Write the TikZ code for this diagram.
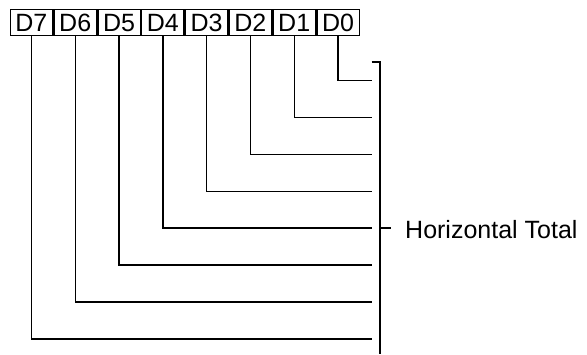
\documentclass[tikz,border=0pt]{standalone}
\usepackage{fontspec}
\setmainfont{Liberation Sans}
\usetikzlibrary{
	positioning
}

\tikzset{
	bit/.style={draw,line width=1.4pt,minimum width=42.4pt,minimum height=26pt,
		inner sep=0pt,font=\fontsize{25}{25}\selectfont},
	wire/.style={line width=1.4pt},
	caption/.style={inner sep=0pt,font=\fontsize{25}{25}\selectfont}
}

\begin{document}
\begin{tikzpicture}[x=1pt,y=1pt]
		\useasboundingbox (0,0) rectangle (587,-354);

		\draw
			node[bit,anchor=north west] (d7) at (9.5,-9) {D7}
			node[bit,right=0pt of d7]              (d6) {D6}
			node[bit,right=0pt of d6]              (d5) {D5}
			node[bit,right=0pt of d5]              (d4) {D4}
			node[bit,right=0pt of d4]              (d3) {D3}
			node[bit,right=0pt of d3]              (d2) {D2}
			node[bit,right=0pt of d2]              (d1) {D1}
			node[bit,right=0pt of d1]              (d0) {D0}
		;

		% free ends of the bit lines
		\coordinate (e0) at (371.5,-80.5);
		\coordinate (e1) at (371.5,-117.4);
		\coordinate (e2) at (371.5,-154.3);
		\coordinate (e3) at (371.5,-191.2);
		\coordinate (e4) at (371.5,-228.1);
		\coordinate (e5) at (371.5,-265.0);
		\coordinate (e6) at (371.5,-301.9);
		\coordinate (e7) at (371.5,-338.8);

		\draw[wire]
			(d0.south) |- (e0)
			(d1.south) |- (e1)
			(d2.south) |- (e2)
			(d3.south) |- (e3)
			(d4.south) |- (e4)
			(d5.south) |- (e5)
			(d6.south) |- (e6)
			(d7.south) |- (e7)
		;

		% bracket
		\coordinate (bt) at (380,-62);
		\coordinate (bb) at (380,-354);
		\draw[wire] (bt) ++(-8.5,0) -- (bt) -- (bb);
		\draw[wire] (bt |- e4) -- ++(11,0) coordinate (tk);
		\node[caption,right=14pt of tk,yshift=-1.5pt] (total) {Horizontal Total};
	\end{tikzpicture}
\end{document}
